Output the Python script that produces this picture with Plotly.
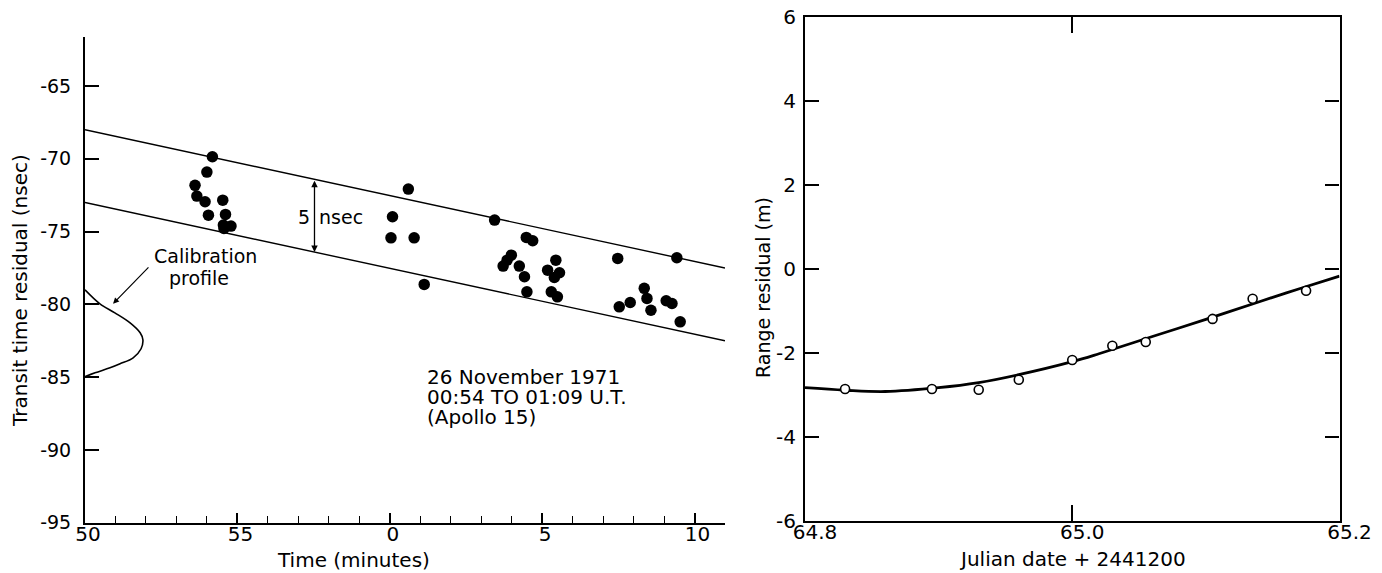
import numpy as np
import plotly.graph_objects as go

W, H = 1382, 573

# ---------------- Left panel data (time in minutes, 60 == 0 of next hour) ----------------
dot_time = [54.18, 54.00, 53.61, 53.67, 53.94, 54.52, 54.05, 54.61, 54.54, 54.79, 54.56,
            60.61, 60.09, 60.04, 60.80, 61.13,
            63.44, 64.48, 64.69, 63.99, 63.85, 63.72, 64.25, 64.42, 64.50,
            65.45, 65.18, 65.57, 65.40, 65.30, 65.50,
            67.48, 69.42, 68.35, 68.44, 68.57, 67.89, 67.53, 69.07, 69.26, 69.53]
dot_resid = [-69.86, -70.91, -71.82, -72.56, -72.95, -72.84, -73.87, -73.82, -74.55, -74.62, -74.79,
             -72.08, -73.98, -75.43, -75.43, -78.63,
             -74.21, -75.40, -75.63, -76.62, -76.96, -77.37, -77.37, -78.10, -79.14,
             -76.96, -77.65, -77.83, -78.15, -79.14, -79.48,
             -76.84, -76.80, -78.90, -79.59, -80.40, -79.87, -80.17, -79.75, -79.94, -81.20]

band_time = [50.0, 71.0]
band_upper = [-68.0, -77.5]
band_lower = [-73.0, -82.5]

profile_x = [50.0, 50.49, 50.98, 51.48, 51.81, 51.90, 51.84, 51.58, 51.15, 50.82, 50.33, 50.0]
profile_y = [-79.0, -79.96, -80.58, -81.27, -81.95, -82.43, -83.05, -83.67, -84.08, -84.36, -84.70, -84.97]

time_ticks = [50, 55, 60, 65, 70]
time_labels = ["50", "55", "0", "5", "10"]
resid_ticks = [-95, -90, -85, -80, -75, -70, -65]
resid_labels = ["-95", "-90", "-85", "-80", "-75", "-70", "-65"]

# ---------------- Right panel data ----------------
jd_obs = [64.83, 64.895, 64.93, 64.96, 65.00, 65.03, 65.055, 65.105, 65.135, 65.175]
range_obs = [-2.86, -2.86, -2.88, -2.64, -2.17, -1.83, -1.74, -1.19, -0.71, -0.52]

jd_fit = [64.80, 64.83, 64.86, 64.90, 64.93, 64.96, 65.00, 65.02, 65.06, 65.10, 65.14, 65.17, 65.20]
range_fit = [-2.83, -2.89, -2.92, -2.83, -2.71, -2.52, -2.21, -2.02, -1.61, -1.20, -0.78, -0.47, -0.17]

jd_ticks = [64.8, 65.0, 65.2]
jd_labels = ["64.8", "65.0", "65.2"]
rr_ticks = [-6, -4, -2, 0, 2, 4, 6]
rr_labels = ["-6", "-4", "-2", "0", "2", "4", "6"]

FONT = "DejaVu Sans"


def px(x):
    return x / W


def py(y):
    return 1 - y / H


fig = go.Figure()

# left panel
fig.add_trace(go.Scatter(x=band_time, y=band_upper, mode="lines",
                         line=dict(color="black", width=1.4), xaxis="x", yaxis="y", showlegend=False))
fig.add_trace(go.Scatter(x=band_time, y=band_lower, mode="lines",
                         line=dict(color="black", width=1.4), xaxis="x", yaxis="y", showlegend=False))
fig.add_trace(go.Scatter(x=profile_x, y=profile_y, mode="lines", line_shape="spline",
                         line=dict(color="black", width=1.6), xaxis="x", yaxis="y", showlegend=False))
fig.add_trace(go.Scatter(x=dot_time, y=dot_resid, mode="markers",
                         marker=dict(color="black", size=11.5, line=dict(width=0)),
                         xaxis="x", yaxis="y", showlegend=False, cliponaxis=False))

# right panel
fig.add_trace(go.Scatter(x=jd_fit, y=range_fit, mode="lines", line_shape="spline",
                         line=dict(color="black", width=2.8), xaxis="x2", yaxis="y2", showlegend=False))
fig.add_trace(go.Scatter(x=jd_obs, y=range_obs, mode="markers",
                         marker=dict(color="white", size=9, line=dict(color="black", width=1.6)),
                         xaxis="x2", yaxis="y2", showlegend=False))

axis_common = dict(showline=True, linecolor="black", linewidth=2, showgrid=False, zeroline=False,
                   automargin=False,
                   ticks="inside", tickcolor="black", tickwidth=1.5,
                   tickfont=dict(family=FONT, size=20, color="black"))

fig.update_layout(
    width=W, height=H,
    margin=dict(l=0, r=0, t=0, b=0, autoexpand=False),
    paper_bgcolor="white", plot_bgcolor="white",
    font=dict(family=FONT, color="black"),
    xaxis=dict(axis_common, domain=[px(85), px(725)], range=[50, 71.0], anchor="y",
               tickvals=time_ticks, ticktext=time_labels, ticklen=10, ticklabelstandoff=-8,
               ticklabelshift=3,
               minor=dict(ticks="inside", ticklen=7, tick0=50, dtick=1, tickwidth=1,
                          tickcolor="black", showgrid=False)),
    yaxis=dict(axis_common, domain=[py(522.7), py(37)], range=[-95, -61.63], anchor="x",
               tickvals=resid_ticks, ticktext=resid_labels, ticklen=14, ticklabelstandoff=8,
               tickfont=dict(family=FONT, size=19, color="black")),
    xaxis2=dict(axis_common, domain=[px(805), px(1339.5)], range=[64.8, 65.2], anchor="y2",
                mirror="ticks", tickvals=jd_ticks, ticktext=jd_labels, ticklen=16,
                ticklabelstandoff=-8, ticklabelshift=10, linewidth=2.2),
    yaxis2=dict(axis_common, domain=[py(520.7), py(17.3)], range=[-6, 6], anchor="x2",
                mirror="ticks", tickvals=rr_ticks, ticktext=rr_labels, ticklen=14,
                ticklabelstandoff=3, linewidth=2.2),
)

ann = []


def paper_text(text, x, y, size=20, angle=0):
    ann.append(dict(text=text, x=px(x), y=py(y), xref="paper", yref="paper",
                    xanchor="center", yanchor="middle", showarrow=False,
                    textangle=angle, font=dict(size=size)))


# axis titles
paper_text("Time (minutes)", 353, 560, 20)
paper_text("Transit time residual (nsec)", 20, 291, 20, -90)
paper_text("Range residual (m)", 763, 288, 19, -90)
paper_text("Julian date + 2441200", 1072, 559, 20)

# 5 nsec double arrow
arrow_t = 57.53
y_top = float(np.interp(arrow_t, band_time, band_upper))
y_bot = float(np.interp(arrow_t, band_time, band_lower))
ann.append(dict(x=arrow_t, y=y_bot, ax=arrow_t, ay=y_top, xref="x", yref="y", axref="x", ayref="y",
                showarrow=True, arrowhead=2, arrowside="end+start", arrowsize=1, arrowwidth=1.3,
                arrowcolor="black", text="", standoff=0, startstandoff=0))
ann.append(dict(text="5", x=57.18, y=-73.97, xref="x", yref="y", showarrow=False,
                xanchor="center", yanchor="middle", font=dict(size=19)))
ann.append(dict(text="nsec", x=58.4, y=-73.97, xref="x", yref="y", showarrow=False,
                xanchor="center", yanchor="middle", font=dict(size=19)))

# calibration profile label + arrow
ann.append(dict(text="Calibration", x=53.95, y=-76.67, xref="x", yref="y", showarrow=False,
                xanchor="center", yanchor="middle", font=dict(size=19)))
ann.append(dict(text="profile", x=53.73, y=-78.18, xref="x", yref="y", showarrow=False,
                xanchor="center", yanchor="middle", font=dict(size=19)))
ann.append(dict(x=50.92, y=-79.96, ax=52.13, ay=-77.35, xref="x", yref="y", axref="x", ayref="y",
                showarrow=True, arrowhead=2, arrowsize=1, arrowwidth=1.2, arrowcolor="black",
                text="", standoff=0))

# date block
for txt, yv in [("26 November 1971", -84.97), ("00:54 TO 01:09 U.T.", -86.35), ("(Apollo 15)", -87.72)]:
    ann.append(dict(text=txt, x=61.16, y=yv, xref="x", yref="y", xanchor="left", yanchor="middle",
                    showarrow=False, font=dict(size=20)))

fig.update_layout(annotations=ann)

fig.write_html("out.html", config={"displayModeBar": False},
               post_script="document.body.style.margin='0';")
